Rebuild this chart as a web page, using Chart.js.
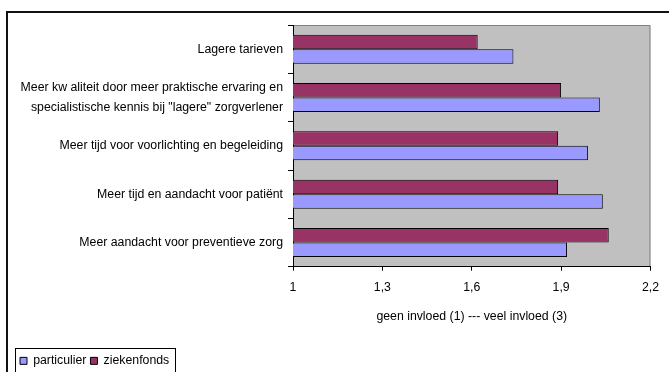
<!DOCTYPE html>
<html>
<head>
<meta charset="utf-8">
<script src="https://cdn.jsdelivr.net/npm/chart.js@4/dist/chart.umd.min.js"></script>
<style>
  html, body { margin: 0; padding: 0; background: #fff; }
  #wrap { width: 669px; height: 372px; position: relative; }
</style>
</head>
<body>
<div id="wrap"><canvas id="c" width="669" height="372"></canvas></div>
<script>
// Categories (top to bottom) and mean scores per insurance type
const categories = [
  'Lagere tarieven',
  ['Meer kw aliteit door meer praktische ervaring en', 'specialistische kennis bij "lagere" zorgverlener'],
  'Meer tijd voor voorlichting en begeleiding',
  'Meer tijd en aandacht voor patiënt',
  'Meer aandacht voor preventieve zorg'
];
const particulier = [1.74, 2.03, 1.99, 2.04, 1.92];
const ziekenfonds = [1.62, 1.90, 1.89, 1.89, 2.06];
const xTickValues = [1, 1.3, 1.6, 1.9, 2.2];
const xAxisTitle = 'geen invloed (1) --- veel invloed (3)';

const FONT_SIZE = 12.3;
Chart.defaults.font.family = '"Liberation Sans", Arial, sans-serif';
Chart.defaults.font.size = FONT_SIZE;
Chart.defaults.color = '#000';

// Grey plot area, outer frame and a box round the legend
const decorations = {
  id: 'decorations',
  beforeDraw(chart) {
    const { ctx, chartArea: a } = chart;
    ctx.save();
    ctx.fillStyle = '#c0c0c0';
    ctx.fillRect(a.left, a.top, a.right - a.left, a.bottom - a.top);
    ctx.strokeStyle = '#808080';
    ctx.lineWidth = 1;
    ctx.beginPath();
    ctx.moveTo(a.left, a.top + 0.5);
    ctx.lineTo(a.right - 0.5, a.top + 0.5);
    ctx.lineTo(a.right - 0.5, a.bottom);
    ctx.stroke();
    // outer frame (top and left edges)
    ctx.strokeStyle = '#111';
    ctx.lineWidth = 2;
    ctx.beginPath();
    ctx.moveTo(7, chart.height + 2);
    ctx.lineTo(7, 12);
    ctx.lineTo(chart.width + 2, 12);
    ctx.stroke();
    ctx.restore();
  },
  afterDraw(chart) {
    const boxes = chart.legend && chart.legend.legendHitBoxes;
    if (!boxes || !boxes.length) return;
    const { ctx } = chart;
    const first = boxes[0], last = boxes[boxes.length - 1];
    const left = Math.round(first.left) - 4.5;
    const right = Math.round(last.left + last.width) + 6.5;
    const top = Math.round(first.top) - 6.5;
    ctx.save();
    ctx.strokeStyle = '#000';
    ctx.lineWidth = 1;
    ctx.strokeRect(left, top, right - left, chart.height + 10 - top);
    ctx.restore();
  }
};

new Chart(document.getElementById('c'), {
  type: 'bar',
  data: {
    labels: categories,
    datasets: [
      { label: 'ziekenfonds', data: ziekenfonds, backgroundColor: '#993366', borderColor: '#000', borderWidth: 1 },
      { label: 'particulier', data: particulier, backgroundColor: '#9999ff', borderColor: '#000', borderWidth: 1 }
    ]
  },
  options: {
    indexAxis: 'y',
    responsive: false,
    animation: false,
    devicePixelRatio: 1,
    categoryPercentage: 0.6,
    barPercentage: 1.0,
    layout: { padding: { left: 16, right: 16, top: 25, bottom: -5 } },
    plugins: {
      legend: {
        position: 'bottom',
        align: 'start',
        labels: {
          boxWidth: 7,
          boxHeight: 7,
          padding: 4,
          font: { size: FONT_SIZE },
          sort: (a, b) => b.datasetIndex - a.datasetIndex
        }
      },
      tooltip: { enabled: false }
    },
    scales: {
      x: {
        type: 'linear',
        min: 1,
        max: 2.2,
        afterBuildTicks(scale) { scale.ticks = xTickValues.map(v => ({ value: v })); },
        afterFit(scale) { scale.height = 84; },
        ticks: {
          padding: 10,
          color: '#000',
          callback: v => String(v).replace('.', ',')
        },
        grid: { drawOnChartArea: false, drawTicks: true, tickLength: 4, color: '#000' },
        border: { color: '#000', width: 1 },
        title: {
          display: true,
          text: xAxisTitle,
          color: '#000',
          font: { size: FONT_SIZE },
          padding: { top: 0, bottom: 27 }
        }
      },
      y: {
        type: 'category',
        afterFit(scale) { scale.width = 277; },
        ticks: {
          padding: 5,
          color: '#000',
          autoSkip: false,
          font: { size: FONT_SIZE, lineHeight: 1.63 }
        },
        grid: { drawOnChartArea: false, drawTicks: true, tickLength: 5, color: '#000', offset: true },
        border: { color: '#000', width: 1 }
      }
    }
  },
  plugins: [decorations]
});
</script>
</body>
</html>
